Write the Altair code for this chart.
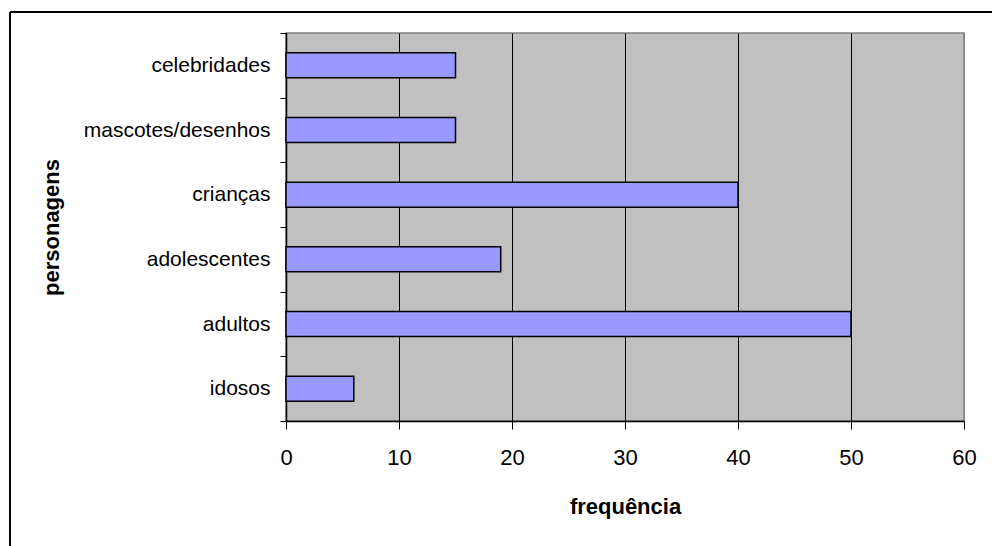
import altair as alt
import pandas as pd

# Personagens presentes nos anúncios e sua frequência
personagens = ["celebridades", "mascotes/desenhos", "crianças", "adolescentes", "adultos", "idosos"]
frequencia = [15, 15, 40, 19, 50, 6]
eixo_x = [0, 10, 20, 30, 40, 50, 60]

df = pd.DataFrame({"personagem": personagens, "frequencia": frequencia})

W, H = 678, 388
PAD = {"left": 286, "top": 33, "right": 28, "bottom": 125}

barras = alt.Chart(df).mark_bar(
    color="#9999FF", stroke="black", strokeWidth=1.5, size=25
).encode(
    y=alt.Y(
        "personagem:N",
        sort=personagens,
        scale=alt.Scale(paddingInner=0, paddingOuter=0),
        axis=alt.Axis(
            title="personagens",
            titleFontSize=22,
            titleFontWeight="bold",
            titleAngle=-90,
            titleX=-228,
            titleY=H / 2,
            titleBaseline="alphabetic",
            titleAlign="center",
            labelFontSize=21,
            labelPadding=10,
            labelLimit=400,
            tickSize=6,
            tickBand="extent",
            grid=False,
        ),
    ),
    x=alt.X(
        "frequencia:Q",
        scale=alt.Scale(domain=[0, 60], nice=False),
        axis=alt.Axis(
            title="frequência",
            titleFontSize=22,
            titleFontWeight="bold",
            titleY=92,
            titleBaseline="alphabetic",
            values=eixo_x,
            format="d",
            labelFontSize=22,
            labelPadding=18,
            labelFlush=False,
            tickSize=8,
            grid=True,
            gridColor=alt.condition("datum.value == 60", alt.value("#808080"), alt.value("black")),
            gridWidth=1,
        ),
    ),
)

# moldura externa do gráfico
um = pd.DataFrame({"k": [0]})
moldura_topo = alt.Chart(um).mark_rule(color="black", strokeWidth=2).encode(
    x=alt.value(10 - PAD["left"]), x2=alt.value(1000 - PAD["left"]), y=alt.value(12 - PAD["top"])
)
moldura_esq = alt.Chart(um).mark_rule(color="black", strokeWidth=2).encode(
    x=alt.value(10 - PAD["left"]), y=alt.value(12 - PAD["top"]), y2=alt.value(560 - PAD["top"])
)

chart = alt.layer(barras, moldura_topo, moldura_esq).properties(
    width=W,
    height=H,
    padding=PAD,
    autosize=alt.AutoSizeParams(type="none"),
    background="white",
).configure(
    font="Liberation Sans",
).configure_view(
    fill="#C0C0C0", stroke="#808080", strokeWidth=1.5
).configure_axis(
    domainColor="black",
    tickColor="black",
    labelColor="black",
    titleColor="black",
    domainWidth=1.5,
)

chart.save("out.html", embed_options={"renderer": "svg", "actions": False})
